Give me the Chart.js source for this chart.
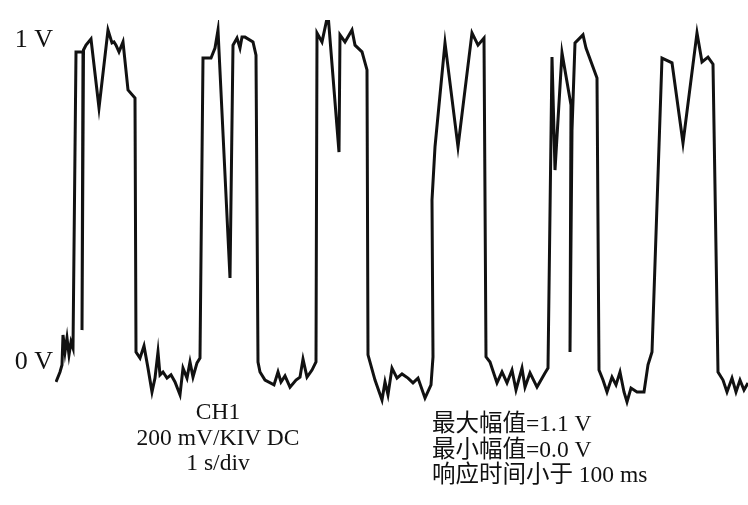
<!DOCTYPE html>
<html>
<head>
<meta charset="utf-8">
<script src="https://cdn.jsdelivr.net/npm/chart.js@4.4.1/dist/chart.umd.min.js"></script>
<style>
  body { margin: 0; background: #fff; }
  #wrap { position: relative; width: 748px; height: 505px; }
  .note {
    position: absolute;
    font-family: "Liberation Serif", "Noto Sans CJK SC", serif;
    font-size: 23.5px;
    line-height: 25.5px;
    color: #111;
    white-space: nowrap;
  }
  #left { left: 116px; top: 399px; width: 204px; text-align: center; }
  #right { left: 432px; top: 411px; text-align: left; }
</style>
</head>
<body>
<div id="wrap">
  <canvas id="scope" width="748" height="505"></canvas>
  <div class="note" id="left">CH1<br>200 mV/KIV DC<br>1 s/div</div>
  <div class="note" id="right">最大幅值=1.1 V<br>最小幅值=0.0 V<br>响应时间小于 100 ms</div>
</div>
<script>
// trace (time in sample units, volts)
var timeS = [56, 60, 62, 63, 65, 67, 69, 71, 73, 76, 83, 82, 83.5, 86, 91, 99, 108, 112, 114, 116, 119, 123, 128, 135,
  136, 140, 144, 148, 152, 155, 158, 160, 163, 167, 171, 175, 180, 183, 187, 190, 193, 197, 200,
  203, 211, 215, 218, 230, 233, 237, 240, 242, 245, 253, 256,
  258, 260, 265, 274, 278, 281, 285, 290, 296, 300, 303, 307, 312, 316,
  317, 322, 328, 339, 340, 345, 352, 355, 362, 367,
  368, 375, 382, 385, 388, 392, 397, 402, 408, 413, 418, 425, 431, 433,
  432, 435, 445, 458, 472, 478, 484,
  486, 490, 497, 502, 507, 512, 516, 522, 525, 530, 537, 545, 548,
  552, 555, 562, 571, 570, 572, 575, 583, 586, 597,
  599, 603, 607, 612, 616, 620, 624, 627, 631, 637, 644, 648, 652,
  662, 672, 683, 697, 702, 708, 713,
  718, 723, 727, 732, 736, 740, 744, 748];
var voltV = [-0.062, -0.031, -0.009, 0.084, 0.031, 0.075, 0.022, 0.062, 0.043, 0.963, 0.963, 0.099, 0.969, 0.984, 1.003, 0.789, 1.031, 0.991, 0.994, 0.984, 0.963, 0.994, 0.845, 0.820,
  0.031, 0.012, 0.050, -0.019, -0.093, -0.050, 0.031, -0.040, -0.031, -0.050, -0.040, -0.062, -0.102, -0.019, -0.050, 0.000, -0.047, -0.003, 0.012,
  0.944, 0.944, 0.975, 1.031, 0.261, 0.984, 1.006, 0.975, 1.009, 1.009, 0.994, 0.953,
  0.000, -0.031, -0.056, -0.071, -0.031, -0.062, -0.043, -0.078, -0.056, -0.047, 0.009, -0.047, -0.025, 0.000,
  1.022, 0.994, 1.081, 0.652, 1.016, 0.994, 1.031, 0.984, 0.963, 0.907,
  0.022, -0.056, -0.118, -0.062, -0.102, -0.019, -0.050, -0.037, -0.050, -0.065, -0.050, -0.112, -0.071, 0.016,
  0.503, 0.668, 0.991, 0.668, 1.022, 0.984, 1.006,
  0.016, 0.000, -0.065, -0.031, -0.065, -0.025, -0.087, -0.019, -0.078, -0.034, -0.078, -0.034, -0.019,
  0.947, 0.596, 0.960, 0.798, 0.031, 0.720, 0.991, 1.016, 0.975, 0.882,
  -0.025, -0.056, -0.093, -0.047, -0.071, -0.031, -0.093, -0.124, -0.081, -0.093, -0.093, -0.009, 0.031,
  0.944, 0.929, 0.680, 1.022, 0.932, 0.947, 0.925,
  -0.031, -0.056, -0.093, -0.050, -0.093, -0.056, -0.087, -0.065];
var levelTicks = [0, 1];

var pts = [];
for (var i = 0; i < timeS.length; i++) {
  pts.push({x: timeS[i], y: voltV[i]});
}

new Chart(document.getElementById("scope"), {
  type: "scatter",
  data: {
    datasets: [{
      data: pts,
      showLine: true,
      borderColor: "#111",
      borderWidth: 3,
      pointRadius: 0,
      tension: 0,
      borderJoinStyle: "miter"
    }]
  },
  options: {
    responsive: false,
    animation: false,
    layout: {padding: {top: 20, bottom: 20, left: 0, right: 0}},
    plugins: {legend: {display: false}, tooltip: {enabled: false}},
    scales: {
      x: {
        type: "linear",
        display: false,
        min: 55,
        max: 748
      },
      y: {
        min: -0.382,
        max: 1.0621,
        grid: {display: false},
        border: {display: false},
        afterBuildTicks: function (axis) {
          axis.ticks = levelTicks.map(function (v) { return {value: v}; });
        },
        afterFit: function (axis) { axis.width = 55; },
        ticks: {
          padding: -6,
          color: "#111",
          font: {family: "Liberation Serif", size: 26},
          callback: function (v) { return v + " V"; }
        }
      }
    }
  }
});
</script>
</body>
</html>
